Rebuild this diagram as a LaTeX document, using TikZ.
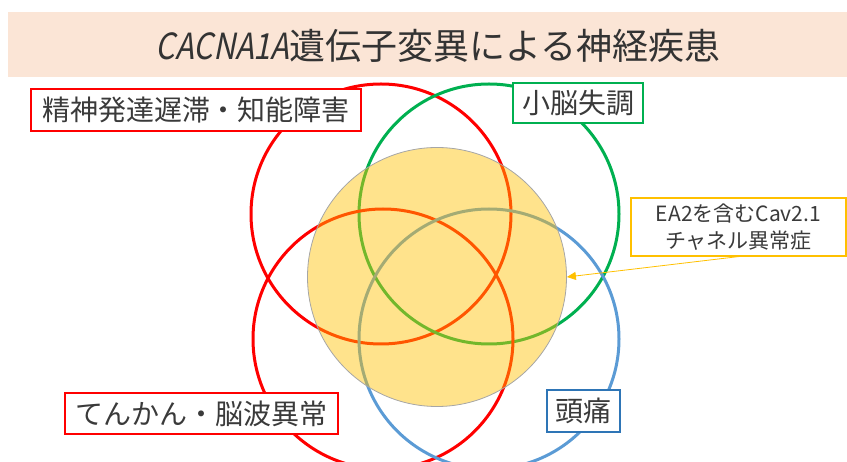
\documentclass[tikz,border=0pt]{standalone}
\usepackage{fontspec}
\setmainfont{Noto Sans CJK JP}
\newfontfamily\titlelat{Noto Sans CJK JP}[FakeSlant=0.2,FakeStretch=0.85]
\usetikzlibrary{arrows.meta}
\definecolor{bandpeach}{HTML}{FBE5D6}
\definecolor{vred}{HTML}{FF0000}
\definecolor{vgreen}{HTML}{00B050}
\definecolor{vblue}{HTML}{5B9BD5}
\definecolor{vbluebox}{HTML}{2E75B6}
\definecolor{vgold}{HTML}{FFC000}
\definecolor{vtext}{HTML}{3A3A3A}
\definecolor{vrim}{HTML}{A6A6A6}
\tikzset{
  ring/.style={circle, minimum size=260pt, inner sep=0pt, line width=3pt},
  lbox/.style={rectangle, fill=white, line width=2.5pt, inner sep=0pt,
    text=vtext, font=\fontsize{28}{32}\selectfont},
  eabox/.style={rectangle, fill=white, draw=vgold, line width=1.2pt, inner sep=0pt,
    text=vtext, align=center, font=\fontsize{21}{27}\selectfont},
  titletext/.style={text=black!80, font=\fontsize{36}{40}\selectfont, inner sep=0pt}
}
\begin{document}
\begin{tikzpicture}[x=1pt,y=-1pt]
\useasboundingbox (0,0) rectangle (847,462);
\fill[bandpeach] (8,12) rectangle (847,77);
\node[titletext] (title) at (438,46) {{\titlelat CACNA1A}遺伝子変異による神経疾患};
% circles
\node[ring, draw=vred] (mr) at (381,214) {};
\node[ring, draw=vgreen] (ca) at (489,214) {};
\node[ring, draw=vred] (ep) at (383,339) {};
\node[ring, draw=vblue] (ha) at (489,339) {};
\node[circle, minimum size=259pt, inner sep=0pt, fill=vgold, fill opacity=0.45,
      draw=vrim, line width=0.8pt] (ea) at (437,277) {};
% labels
\node[lbox, draw=vred, minimum width=330pt, minimum height=42pt] (mrl) at (196,110) {精神発達遅滞・知能障害};
\node[lbox, draw=vgreen, minimum width=130pt, minimum height=40pt] (cal) at (578,103) {小脳失調};
\node[lbox, draw=vred, minimum width=273pt, minimum height=41pt] (epl) at (201.5,413.5) {てんかん・脳波異常};
\node[lbox, draw=vbluebox, minimum width=73pt, minimum height=42pt] (hal) at (583.5,411) {頭痛};
\node[eabox, minimum width=215pt, minimum height=58pt] (eal) at (738.5,227) {EA2を含むCav2.1\\チャネル異常症};
\draw[vgold, line width=0.8pt, -{Triangle[length=9pt,width=8pt]}] (eal.south) -- (ea.east);
\end{tikzpicture}
\end{document}
